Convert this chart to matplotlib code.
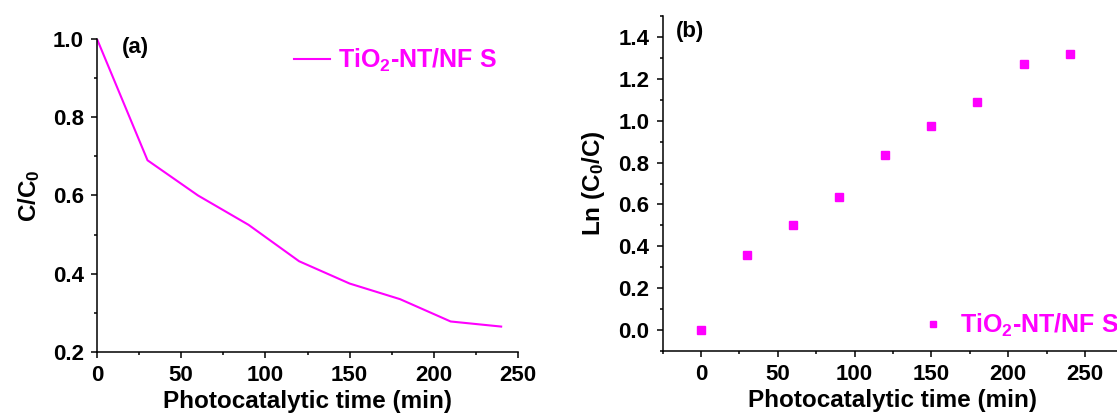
import matplotlib
matplotlib.use("Agg")
import matplotlib.pyplot as plt
from matplotlib.ticker import MultipleLocator

plt.rcParams["font.family"] = "Liberation Sans"
plt.rcParams["font.weight"] = "bold"
plt.rcParams["mathtext.fontset"] = "custom"
plt.rcParams["mathtext.rm"] = "Liberation Sans:bold"
plt.rcParams["mathtext.it"] = "Liberation Sans:bold"
plt.rcParams["mathtext.bf"] = "Liberation Sans:bold"
plt.rcParams["axes.linewidth"] = 1.1

MAG = "#ff00ff"

time_min = [0, 30, 60, 90, 120, 150, 180, 210, 240]
c_ratio = [1.0, 0.69, 0.60, 0.525, 0.432, 0.375, 0.335, 0.278, 0.265]
ln_ratio = [0.0, 0.36, 0.50, 0.635, 0.835, 0.975, 1.09, 1.27, 1.32]
series = r"TiO$_2$-NT/NF S"

fig = plt.figure(figsize=(11.17, 4.17), dpi=100)
W, H = 1117.0, 417.0


def px_axes(x0, x1, ytop, ybot):
    return fig.add_axes([x0 / W, 1 - ybot / H, (x1 - x0) / W, (ybot - ytop) / H])


ax1 = px_axes(97, 518, 39, 352)
ax2 = px_axes(662.6, 1123.4, 16, 351)


def style(ax):
    for s in ("top", "right"):
        ax.spines[s].set_visible(False)
    ax.tick_params(which="major", direction="out", length=4.5, width=1.1,
                   labelsize=16)
    ax.tick_params(axis="x", which="major", pad=5)
    ax.tick_params(axis="y", which="major", pad=5)
    ax.tick_params(which="minor", direction="out", length=2.3, width=1.1)
    for lab in ax.get_xticklabels() + ax.get_yticklabels():
        lab.set_fontweight("bold")


# (a) normalised concentration
ax1.plot(time_min, c_ratio, color=MAG, lw=1.5, label=series)
ax1.set_xlim(0, 250)
ax1.set_ylim(0.2, 1.0)
ax1.xaxis.set_major_locator(MultipleLocator(50))
ax1.xaxis.set_minor_locator(MultipleLocator(25))
ax1.yaxis.set_major_locator(MultipleLocator(0.2))
ax1.yaxis.set_minor_locator(MultipleLocator(0.1))
ax1.set_xlabel("Photocatalytic time (min)", fontsize=17.5, fontweight="bold", labelpad=2.5)
ax1.set_ylabel("C/C$_0$", fontsize=17.5, fontweight="bold", labelpad=8)
style(ax1)
ax1.text(122 / W, 1 - 47 / H, "(a)", transform=fig.transFigure, fontsize=16,
         fontweight="bold", va="center", ha="left")
leg1 = ax1.legend(loc="center left", bbox_to_anchor=(294 / W, 1 - 60 / H),
                  bbox_transform=fig.transFigure, frameon=False, fontsize=18,
                  handlelength=1.45, handletextpad=0.3, borderpad=0, borderaxespad=0)
for t in leg1.get_texts():
    t.set_color(MAG)

# (b) pseudo-first-order kinetics
ax2.plot(time_min, ln_ratio, ls="none", marker="s", ms=6, color=MAG, label=series)
ax2.set_xlim(-25, 275)
ax2.set_ylim(-0.1, 1.5)
ax2.xaxis.set_major_locator(MultipleLocator(50))
ax2.xaxis.set_minor_locator(MultipleLocator(25))
ax2.yaxis.set_major_locator(MultipleLocator(0.2))
ax2.yaxis.set_minor_locator(MultipleLocator(0.1))
ax2.set_xlabel("Photocatalytic time (min)", fontsize=17.5, fontweight="bold", labelpad=2.5)
ax2.set_ylabel("Ln (C$_0$/C)", fontsize=17.5, fontweight="bold", labelpad=8)
style(ax2)
ax2.text(676 / W, 1 - 32 / H, "(b)", transform=fig.transFigure, fontsize=16,
         fontweight="bold", va="center", ha="left")
leg2 = ax2.legend(loc="center left", bbox_to_anchor=(922 / W, 1 - 325 / H),
                  bbox_transform=fig.transFigure, frameon=False, fontsize=18,
                  handlelength=0.9, handletextpad=0.6, borderpad=0, borderaxespad=0,
                  markerscale=0.75)
for t in leg2.get_texts():
    t.set_color(MAG)

fig.savefig("out.png", dpi=100)
